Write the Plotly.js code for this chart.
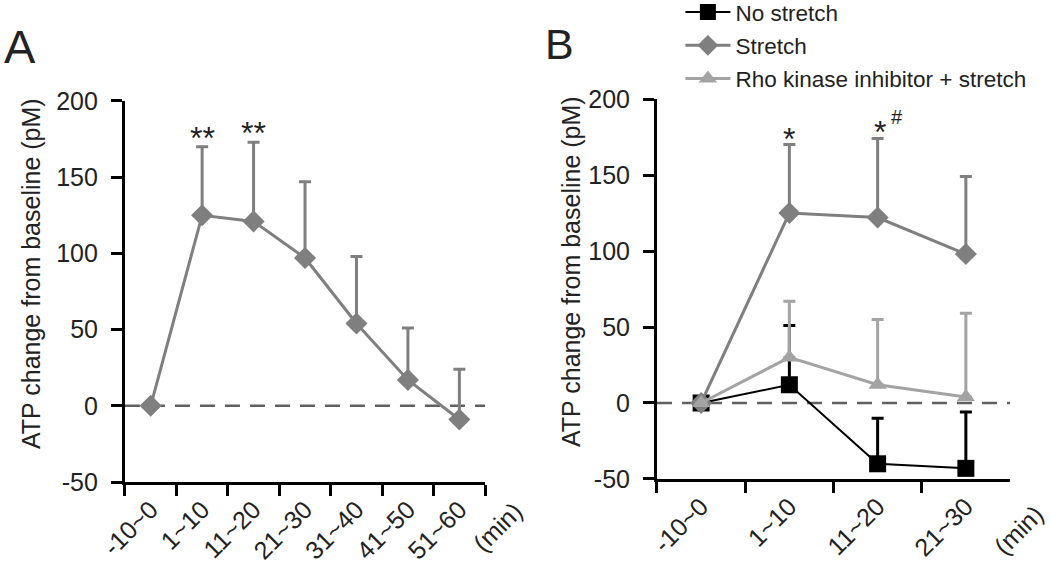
<!DOCTYPE html>
<html>
<head>
<meta charset="utf-8">
<script src="https://cdn.plot.ly/plotly-3.0.1.min.js"></script>
<style>
  html, body { margin: 0; padding: 0; background: #fff; }
  #chart { width: 1050px; height: 568px; }
</style>
</head>
<body>
<div id="chart"></div>
<script>
// Panel A: stretch time course
const timeA = ['-10~0', '1~10', '11~20', '21~30', '31~40', '41~50', '51~60'];
const stretchA = [0, 125, 121, 97, 54, 17, -9];
const stretchAErr = [0, 45, 52, 50, 44, 34, 33];

// Panel B: three groups
const timeB = ['-10~0', '1~10', '11~20', '21~30'];
const noStretchB = [0, 12, -40, -43];
const noStretchBErr = [0, 39, 30, 37];
const stretchB = [0, 125, 122, 98];
const stretchBErr = [0, 45, 52, 51];
const rhoB = [0, 30, 12, 4];
const rhoBErr = [0, 37, 43, 55];

const yTicks = [-50, 0, 50, 100, 150, 200];
const yTickText = ['-50', '0', '50', '100', '150', '200'];
const yTitle = 'ATP change from baseline (pM)';

const FONT = 'Liberation Sans, Arial, sans-serif';
const TXT = '#222';
const GREY = '#7f7f7f';
const LIGHT = '#a3a3a3';

function errBar(arr, color) {
    return { type: 'data', symmetric: false, array: arr, arrayminus: arr.map(() => 0),
             color: color, thickness: 3, width: 6 };
}

let traces = [
    { x: timeA, y: stretchA, mode: 'lines+markers', showlegend: false,
      line: { color: GREY, width: 3 }, marker: { symbol: 'diamond', size: 17, color: GREY },
      error_y: errBar(stretchAErr, GREY), cliponaxis: false },

    { x: timeB, y: noStretchB, mode: 'lines+markers', name: 'No stretch', legendgroup: 'a',
      xaxis: 'x2', yaxis: 'y2',
      line: { color: '#000', width: 2 }, marker: { symbol: 'square', size: 17, color: '#000' },
      error_y: errBar(noStretchBErr, '#000'), cliponaxis: false },
    { x: timeB, y: stretchB, mode: 'lines+markers', name: 'Stretch', legendgroup: 'b',
      xaxis: 'x2', yaxis: 'y2',
      line: { color: GREY, width: 3 }, marker: { symbol: 'diamond', size: 17, color: GREY },
      error_y: errBar(stretchBErr, GREY), cliponaxis: false },
    { x: timeB, y: rhoB, mode: 'lines+markers', name: 'Rho kinase inhibitor + stretch', legendgroup: 'c',
      xaxis: 'x2', yaxis: 'y2',
      line: { color: LIGHT, width: 3 }, marker: { symbol: 'triangle-up', size: 16, color: LIGHT },
      error_y: errBar(rhoBErr, LIGHT), cliponaxis: false }
];

function xAxis(domain, n) {
    return {
        domain: domain, type: 'category', range: [-0.5, n - 0.5], tickson: 'boundaries',
        showline: true, linecolor: '#000', linewidth: 3, mirror: false,
        ticks: 'outside', ticklen: 11, tickwidth: 3, tickcolor: '#000',
        tickangle: -45, tickfont: { family: FONT, size: 25, color: TXT },
        showgrid: false, zeroline: false, fixedrange: true
    };
}
function yAxis(domain, anchor) {
    return {
        domain: domain, anchor: anchor, range: [-50, 200], tickvals: yTicks, ticktext: yTickText,
        showline: true, linecolor: '#000', linewidth: 3,
        ticks: 'outside', ticklen: 11, tickwidth: 3, tickcolor: '#000', ticklabelstandoff: 8,
        tickfont: { family: FONT, size: 25, color: TXT },
        showgrid: false, zeroline: false, fixedrange: true
    };
}

function zeroLine(xr, yr) {
    return { type: 'line', xref: xr + ' domain', yref: yr, x0: 0, x1: 1, y0: 0, y1: 0,
             line: { color: '#606060', width: 2.5, dash: '15px,10px' }, layer: 'below' };
}

function star(xr, yr, x, y, text, size, shift) {
    return { xref: xr, yref: yr, x: x, y: y, text: text, showarrow: false,
             xanchor: 'center', yanchor: 'middle', xshift: shift || 0,
             font: { family: FONT, size: size, color: TXT } };
}

function paperText(px, py, text, size, angle) {
    return { xref: 'paper', yref: 'paper', x: px / 1050, y: 1 - py / 568, text: text, showarrow: false,
             xanchor: 'center', yanchor: 'middle', textangle: angle || 0,
             font: { family: FONT, size: size, color: TXT } };
}

// "(min)" unit label, placed from the panel B reference point and shifted in pixels
function unitLabel(xshift, yshift) {
    return { xref: 'x2 domain', yref: 'y2 domain', x: 1.024, y: -0.134, text: '(min)', showarrow: false,
             xanchor: 'center', yanchor: 'middle', textangle: -45, xshift: xshift, yshift: yshift,
             font: { family: FONT, size: 25, color: TXT } };
}

let layout = {
    width: 1050, height: 568,
    margin: { l: 0, r: 0, t: 0, b: 0, autoexpand: false },
    paper_bgcolor: '#fff', plot_bgcolor: '#fff',
    xaxis:  Object.assign(xAxis([0.119, 0.462], 7), { anchor: 'y' }),
    yaxis:  yAxis([0.1514, 0.8222], 'x'),
    xaxis2: Object.assign(xAxis([0.6257, 0.9619], 4), { anchor: 'y2' }),
    yaxis2: yAxis([0.1567, 0.8257], 'x2'),
    showlegend: true,
    legend: {
        x: 0.648, xanchor: 'left', y: 1.016, yanchor: 'top',
        font: { family: FONT, size: 22.5, color: TXT },
        traceorder: 'grouped', tracegroupgap: 1, itemwidth: 45,
        bgcolor: 'rgba(0,0,0,0)'
    },
    shapes: [ zeroLine('x', 'y'), zeroLine('x2', 'y2') ],
    annotations: [
        paperText(20, 46, 'A', 47),
        paperText(559, 44, 'B', 43),
        paperText(31, 274, yTitle, 25, -90),
        paperText(571, 272, yTitle, 25, -90),
        star('x', 'y', '1~10', 176, '**', 32),
        star('x', 'y', '11~20', 179, '**', 32),
        star('x2', 'y2', '1~10', 174, '*', 32),
        star('x2', 'y2', '11~20', 178, '*', 32, 2),
        star('x2', 'y2', '11~20', 188, '#', 20, 19),
        unitLabel(0, 0),
        unitLabel(-521, 3)
    ]
};

Plotly.newPlot(document.getElementById('chart'), traces, layout, { staticPlot: true });
</script>
</body>
</html>
